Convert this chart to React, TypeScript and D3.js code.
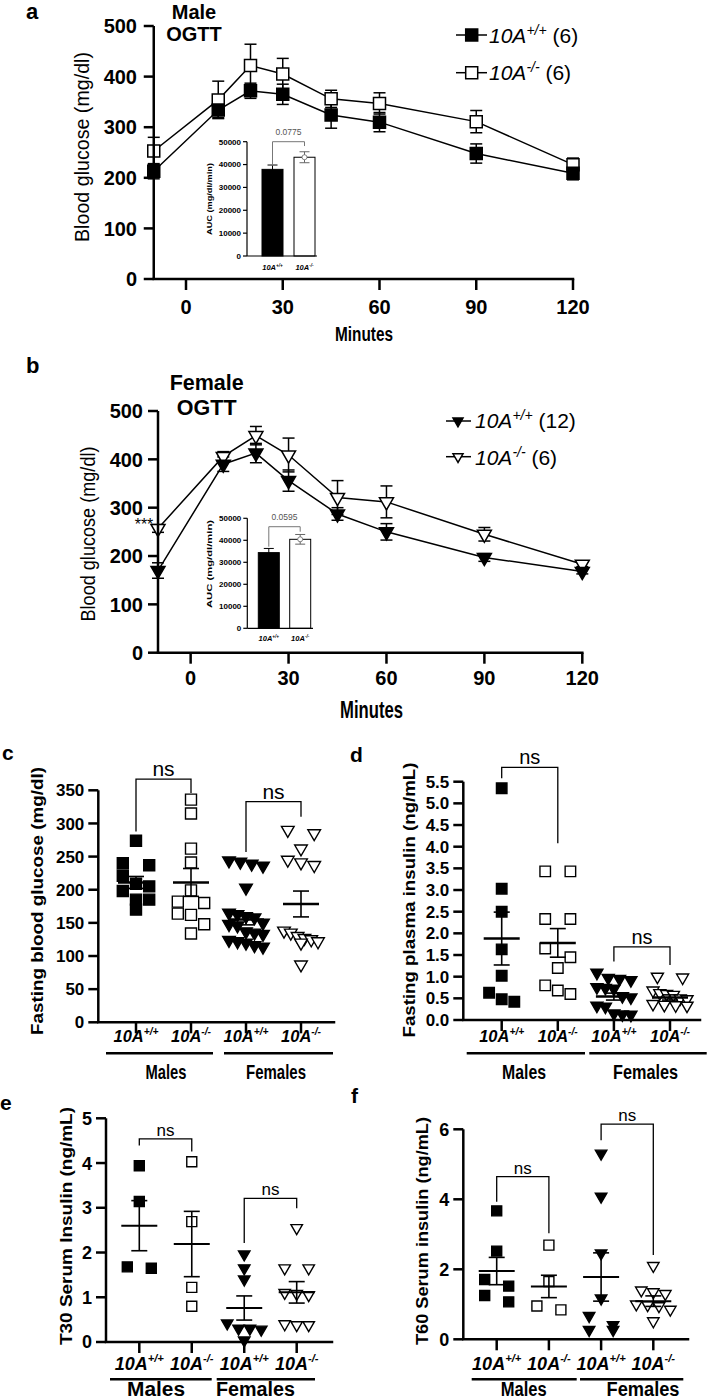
import React from 'react';
import * as d3 from 'd3';

// ---------- DATA ----------
const timePoints = [-10, 10, 20, 30, 45, 60, 90, 120];
const maleWT = [213, 334, 372, 365, 324, 310, 248, 209];
const maleWTSem = [15, 15, 15, 20, 26, 19, 19, 13];
const maleKO = [253, 354, 422, 405, 356, 347, 311, 226];
const maleKOSem = [27, 37, 42, 31, 17, 21, 22, 13];
const femaleWT = [170, 390, 413, 356, 287, 250, 197, 168];
const femaleWTSem = [16, 15, 20, 22, 13, 17, 8, 5];
const femaleKO = [257, 406, 449, 409, 321, 312, 245, 183];
const femaleKOSem = [8, 10, 19, 35, 35, 33, 14, 5];
const ogttYTicks = [0, 100, 200, 300, 400, 500];
const ogttXTicks = [0, 30, 60, 90, 120];

const genotypes = ['+/+', '-/-'];
const maleAUC = [37900, 43200];
const maleAUCSem = [1900, 2400];
const femaleAUC = [34400, 40450];
const femaleAUCSem = [1900, 2200];
const aucTicks = [0, 10000, 20000, 30000, 40000, 50000];
const aucPValues = ['0.0775', '0.0595'];

const categories = ['M+/+', 'M-/-', 'F+/+', 'F-/-'];
const categoryGenotypes = ['+/+', '-/-', '+/+', '-/-'];
const sexes = ['Males', 'Females'];

const glucoseMaleWT = [274, 240, 237, 221, 209, 205, 198, 185, 185, 170];
const glucoseMaleKO = [336, 315, 262, 241, 199, 182, 180, 164, 162, 148, 134];
const glucoseFemaleWT = [244, 242, 239, 236, 203, 165, 163, 160, 158, 150, 148, 146, 137, 135, 133, 124, 122, 120, 116, 114];
const glucoseFemaleKO = [290, 285, 262, 245, 241, 237, 138, 135, 130, 127, 125, 122, 120, 87];
const glucoseMeans = [211, 211, 155, 178.5];
const glucoseSems = [9, 21, 8, 19.5];

const insulinMaleWT = [5.35, 3.03, 2.5, 1.63, 1.02, 0.63, 0.48, 0.42];
const insulinMaleKO = [3.43, 3.43, 2.33, 2.33, 1.65, 1.45, 1.2, 0.8, 0.68, 0.6];
const insulinFemaleWT = [1.09, 0.97, 0.95, 0.92, 0.76, 0.74, 0.72, 0.55, 0.52, 0.33, 0.31, 0.15, 0.13, 0.12];
const insulinFemaleKO = [1.0, 0.98, 0.68, 0.62, 0.6, 0.58, 0.5, 0.48, 0.37, 0.35, 0.34, 0.33];
const insulinMeans = [1.88, 1.78, 0.54, 0.52];
const insulinSems = [0.61, 0.33, 0.08, 0.06];

const t30MaleWT = [3.94, 3.14, 1.68, 1.65];
const t30MaleKO = [4.03, 2.69, 1.22, 0.8];
const t30FemaleWT = [1.96, 1.65, 1.4, 0.42, 0.3, 0.28, 0.3, 0.04];
const t30FemaleKO = [2.55, 1.65, 1.65, 1.1, 1.08, 1.05, 0.38, 0.4, 0.38];
const t30Means = [2.6, 2.19, 0.76, 1.11];
const t30Sems = [0.56, 0.73, 0.27, 0.24];

const t60MaleWT = [3.67, 2.52, 1.71, 1.52, 1.25, 1.07];
const t60MaleKO = [2.69, 1.65, 0.95, 0.84];
const t60FemaleWT = [5.31, 4.08, 2.46, 1.17, 0.67, 0.41, 0.27, 0.27];
const t60FemaleKO = [2.1, 1.4, 1.35, 1.3, 1.0, 0.98, 0.95, 0.85, 0.52];
const t60Means = [1.95, 1.51, 1.78, 1.09];
const t60Sems = [0.39, 0.32, 0.69, 0.15];

const FONT = "'Liberation Sans', Arial, Helvetica, sans-serif";

function symbolPath(shape: string, size: number) {
  if (shape === 'square') return d3.symbol().type(d3.symbolSquare).size(size * size)() as string;
  return d3.symbol().type(d3.symbolTriangle).size((size * size * Math.sqrt(3)) / 4)() as string;
}

function Marker({ x, y, shape, size, filled, sw = 1.5 }: any) {
  const rot = shape === 'square' ? '' : ' rotate(180)';
  return (
    <path
      d={symbolPath(shape, size)}
      transform={`translate(${x},${y})${rot}`}
      fill={filled ? '#000' : '#fff'}
      stroke="#000"
      strokeWidth={sw}
    />
  );
}

function Geno({ x, y, g, size, bold = true, anchor = 'middle' }: any) {
  return (
    <text x={x} y={y} textAnchor={anchor} fontSize={size} fontWeight={bold ? 'bold' : 'normal'} fontStyle="italic">
      10A<tspan dy={-size * 0.42} fontSize={size * 0.62}>{g}</tspan>
    </text>
  );
}

// ---------- INSET ----------
function Inset({ c, values, sems, pValue }: any) {
  const y = d3.scaleLinear().domain([0, 50000]).range(c.yRange);
  const x = d3.scalePoint<string>().domain(genotypes).range(c.centers);
  const bw = 21;
  return (
    <g>
      {values.map((v: number, i: number) => {
        const cx = x(genotypes[i]) as number;
        return (
          <g key={i}>
            <line x1={cx} x2={cx} y1={y(v - sems[i])} y2={y(v + sems[i])} stroke={i ? '#666' : '#000'} strokeWidth={1} />
            <line x1={cx - 5} x2={cx + 5} y1={y(v + sems[i])} y2={y(v + sems[i])} stroke={i ? '#666' : '#000'} strokeWidth={1} />
            <line x1={cx - 5} x2={cx + 5} y1={y(v - sems[i])} y2={y(v - sems[i])} stroke={i ? '#666' : '#000'} strokeWidth={1} />
            <rect x={cx - bw / 2} y={y(v)} width={bw} height={y(0) - y(v)} fill={i ? 'none' : '#000'} stroke="#000" strokeWidth={1} />
            {i === 1 && <circle cx={cx} cy={y(v)} r={2.5} fill="#fff" stroke="#666" strokeWidth={0.8} />}
            <Geno x={cx} y={c.labelBaseline} g={genotypes[i]} size={7.5} />
          </g>
        );
      })}
      <line x1={c.axisX} x2={c.axisX} y1={y(50000)} y2={y(0)} stroke="#000" strokeWidth={1.2} />
      <line x1={c.axisX} x2={c.xEnd} y1={y(0)} y2={y(0)} stroke="#000" strokeWidth={1.2} />
      {aucTicks.map((t) => (
        <g key={t}>
          <line x1={c.axisX - 4} x2={c.axisX} y1={y(t)} y2={y(t)} stroke="#000" strokeWidth={1.2} />
          <text x={c.axisX - 6} y={y(t)} dy="0.36em" textAnchor="end" fontSize={8} fontWeight="bold">{t}</text>
        </g>
      ))}
      <text
        transform={`translate(${c.titleCenter[0]},${c.titleCenter[1]}) rotate(-90)`}
        textAnchor="middle"
        dominantBaseline="central"
        fontSize={8}
        fontWeight="bold"
        textLength={c.titleLen}
        lengthAdjust="spacingAndGlyphs"
      >AUC (mg/dl/min)</text>
      <path
        d={`M${x(genotypes[0])},${y(c.bracket[1])}V${y(c.bracket[0])}H${x(genotypes[1])}V${y(c.bracket[2])}`}
        fill="none"
        stroke="#777"
        strokeWidth={1}
      />
      <text x={((x(genotypes[0]) as number) + (x(genotypes[1]) as number)) / 2} y={c.pBaseline} textAnchor="middle" fontSize={8.5} fill="#555">{pValue}</text>
    </g>
  );
}

// ---------- OGTT PANEL ----------
function OgttPanel({ c, wt, wtSem, ko, koSem, shape, auc, aucSem, pValue }: any) {
  const x = d3.scaleLinear().domain([-10, 120]).range(c.xRange);
  const y = d3.scaleLinear().domain([0, 500]).range(c.yRange);
  const line = d3.line<number>().x((_, i) => x(timePoints[i])).y((d) => y(d));
  const x0 = x(-10);
  const series = [
    { v: ko, s: koSem, filled: false },
    { v: wt, s: wtSem, filled: true },
  ];
  return (
    <g>
      <text x={c.letter[0]} y={c.letter[1]} fontSize={22} fontWeight="bold">{c.letterText}</text>
      {c.headings.map((h: string, i: number) => (
        <text key={h} x={c.headingX} y={c.headingY[i]} textAnchor="middle" fontSize={c.headingFont} fontWeight="bold">{h}</text>
      ))}
      <text
        transform={`translate(${c.titleCenter[0]},${c.titleCenter[1]}) rotate(-90)`}
        textAnchor="middle"
        dominantBaseline="central"
        fontSize={19.5}
        textLength={c.titleLen}
        lengthAdjust="spacingAndGlyphs"
      >Blood glucose (mg/dl)</text>
      {series.map((s, k) => (
        <path key={k} d={line(s.v) as string} fill="none" stroke="#000" strokeWidth={1.5} />
      ))}
      {series.map((s, k) => (
        <g key={'e' + k}>
          {s.v.map((v: number, i: number) => {
            const px = x(timePoints[i]);
            const hi = y(v + s.s[i]);
            const lo = y(v - s.s[i]);
            return (
              <g key={i}>
                <line x1={px} x2={px} y1={hi} y2={lo} stroke="#000" strokeWidth={1.5} />
                <line x1={px - 6} x2={px + 6} y1={hi} y2={hi} stroke="#000" strokeWidth={1.5} />
                <line x1={px - 6} x2={px + 6} y1={lo} y2={lo} stroke="#000" strokeWidth={1.5} />
              </g>
            );
          })}
        </g>
      ))}
      {series.map((s, k) => (
        <g key={'m' + k}>
          {s.v.map((v: number, i: number) => (
            <Marker key={i} x={x(timePoints[i])} y={y(v)} shape={shape} size={c.markerSize} filled={s.filled} />
          ))}
        </g>
      ))}
      <line x1={x0} x2={x0} y1={y(500)} y2={y(0)} stroke="#000" strokeWidth={2.5} />
      <line x1={x0} x2={x(120)} y1={y(0)} y2={y(0)} stroke="#000" strokeWidth={2.5} strokeLinecap="square" />
      {ogttYTicks.map((t) => (
        <g key={t}>
          <line x1={x0 - 10} x2={x0} y1={y(t)} y2={y(t)} stroke="#000" strokeWidth={2.5} />
          <text x={c.yLabelRight} y={y(t)} dy="0.36em" textAnchor="end" fontSize={20} fontWeight="bold">{t}</text>
        </g>
      ))}
      {ogttXTicks.map((t) => (
        <g key={t}>
          <line x1={x(t)} x2={x(t)} y1={y(0)} y2={y(0) + 11} stroke="#000" strokeWidth={2.5} />
          <text x={x(t)} y={c.xLabelBaseline} textAnchor="middle" fontSize={20} fontWeight="bold">{t}</text>
        </g>
      ))}
      <text x={c.minutes[0]} y={c.minutes[1]} textAnchor="middle" fontSize={c.minutes[3]} fontWeight="bold" textLength={c.minutes[2]} lengthAdjust="spacingAndGlyphs">Minutes</text>
      {c.legendY.map((ly: number, i: number) => (
        <g key={i}>
          <line x1={c.legendLine[0]} x2={c.legendLine[1]} y1={ly} y2={ly} stroke="#000" strokeWidth={1.5} />
          <Marker x={c.legendMarkerX} y={ly} shape={shape} size={c.legendMarkerSize} filled={i === 0} />
          <text x={c.legendTextX} y={c.legendBaseline[i]} fontSize={21}>
            <tspan fontStyle="italic">10A</tspan>
            <tspan fontStyle="italic" dy={-8} fontSize={14}>{genotypes[i]}</tspan>
            <tspan dy={8}>{` (${c.legendN[i]})`}</tspan>
          </text>
        </g>
      ))}
      {c.stars && (
        <text x={x0 - 14} y={c.stars} textAnchor="middle" fontSize={16}>***</text>
      )}
      <Inset c={c.inset} values={auc} sems={aucSem} pValue={pValue} />
    </g>
  );
}

// ---------- SCATTER PANEL ----------
function jitter(values: number[], yScale: any, size: number, step: number, maxHalf: number) {
  const idx = values.map((_, i) => i).sort((a, b) => values[b] - values[a]);
  const offsets = new Array(values.length).fill(0);
  let row: number[] = [];
  let rowTop = 0;
  const flush = () => {
    const n = row.length;
    if (!n) return;
    let slots: number[];
    if (n === 1) slots = [0];
    else if (n === 2) slots = [-1, 1];
    else slots = row.map((_, k) => k - (n - 1) / 2);
    const maxSlot = Math.max(...slots.map(Math.abs));
    let st = step;
    if (maxSlot * st > maxHalf) st = maxHalf / maxSlot;
    row.forEach((id, k) => (offsets[id] = slots[k] * st));
    row = [];
  };
  for (const id of idx) {
    const py = yScale(values[id]);
    if (row.length && py - rowTop < size) row.push(id);
    else {
      flush();
      row = [id];
      rowTop = py;
    }
  }
  flush();
  return offsets;
}

function ScatterPanel({ c, groups, means, sems }: any) {
  const y = d3.scaleLinear().domain(c.yDomain).range(c.yRange);
  const x = d3.scalePoint<string>().domain(categories).range(c.xRange);
  const fmt = c.tickFormat || ((d: number) => String(d));
  const ms = c.markerSize;
  return (
    <g>
      <text x={c.letter[0]} y={c.letter[1]} fontSize={21} fontWeight="bold">{c.letterText}</text>
      <text
        transform={`translate(${c.titleCenter[0]},${c.titleCenter[1]}) rotate(-90)`}
        textAnchor="middle"
        dominantBaseline="central"
        fontSize={c.titleFont}
        fontWeight="bold"
        textLength={c.titleLen}
        lengthAdjust="spacingAndGlyphs"
      >{c.title}</text>
      {groups.map((vals: number[], gi: number) => {
        const cx = x(categories[gi]) as number;
        const offs = jitter(vals, y, ms, ms * 1.2, c.maxHalf);
        const shape = gi < 2 ? 'square' : 'tri';
        return (
          <g key={gi}>
            {vals.map((v, i) => (
              <Marker key={i} x={cx + offs[i]} y={y(v)} shape={shape} size={shape === 'square' ? ms : ms * 1.15} filled={gi % 2 === 0} sw={1.4} />
            ))}
          </g>
        );
      })}
      {means.map((m: number, gi: number) => {
        const cx = x(categories[gi]) as number;
        const hi = y(m + sems[gi]);
        const lo = y(m - sems[gi]);
        return (
          <g key={gi} stroke="#000" strokeWidth={c.meanWidth}>
            <line x1={cx - 18} x2={cx + 18} y1={y(m)} y2={y(m)} />
            <line x1={cx} x2={cx} y1={hi} y2={lo} strokeWidth={1.6} />
            <line x1={cx - 8} x2={cx + 8} y1={hi} y2={hi} strokeWidth={1.6} />
            <line x1={cx - 8} x2={cx + 8} y1={lo} y2={lo} strokeWidth={1.6} />
          </g>
        );
      })}
      {c.brackets.map((b: any, i: number) => {
        const xl = x(categories[b.from]) as number;
        const xr = x(categories[b.to]) as number;
        return (
          <g key={i}>
            <path d={`M${xl},${y(b.left)}V${y(b.top)}H${xr}V${y(b.right)}`} fill="none" stroke="#000" strokeWidth={1.3} />
            <text x={(xl + xr) / 2} y={y(b.top) - 3} textAnchor="middle" fontSize={c.nsFont}>ns</text>
          </g>
        );
      })}
      <line x1={c.axisX} x2={c.axisX} y1={y(c.yDomain[1])} y2={y(0)} stroke="#000" strokeWidth={2.5} />
      <line x1={c.axisX} x2={c.xEnd} y1={y(0)} y2={y(0)} stroke="#000" strokeWidth={2.5} strokeLinecap="square" />
      {c.yTicks.map((t: number) => (
        <g key={t}>
          <line x1={c.axisX - 10} x2={c.axisX} y1={y(t)} y2={y(t)} stroke="#000" strokeWidth={2.5} />
          <text x={c.axisX - 14} y={y(t)} dy="0.36em" textAnchor="end" fontSize={c.tickFont} fontWeight="bold">{fmt(t)}</text>
        </g>
      ))}
      {categories.map((cat, i) => {
        const cx = x(cat) as number;
        return (
          <g key={cat}>
            <line x1={cx} x2={cx} y1={y(0)} y2={y(0) + 11} stroke="#000" strokeWidth={2.5} />
            <Geno x={cx} y={c.catBaseline} g={categoryGenotypes[i]} size={c.catFont} />
          </g>
        );
      })}
      {sexes.map((s, i) => (
        <g key={s}>
          <line x1={c.groupLines[i][0]} x2={c.groupLines[i][1]} y1={c.groupLineY} y2={c.groupLineY} stroke="#000" strokeWidth={2.5} />
          <text x={c.groupLabelX[i]} y={c.groupBaseline} textAnchor="middle" fontSize={c.groupFont} fontWeight="bold" textLength={c.groupLabelLen[i]} lengthAdjust="spacingAndGlyphs">{s}</text>
        </g>
      ))}
    </g>
  );
}

// ---------- LAYOUT ----------
const panelA = {
  letterText: 'a', letter: [26, 19],
  xRange: [153.75, 573], yRange: [279, 26],
  yLabelRight: 137, xLabelBaseline: 314,
  titleCenter: [82, 147], titleLen: 190,
  minutes: [364, 341, 58, 20],
  headings: ['Male', 'OGTT'], headingX: 194, headingY: [18.5, 41], headingFont: 20,
  markerSize: 12,
  legendY: [35, 72.7], legendLine: [456, 487], legendMarkerX: 471.7, legendMarkerSize: 12,
  legendTextX: 489, legendBaseline: [43, 80], legendN: [6, 6],
  stars: null,
  inset: {
    yRange: [256, 141.7], centers: [272.5, 304.5], axisX: 247, xEnd: 317,
    labelBaseline: 270, titleCenter: [209, 199], titleLen: 72,
    pBaseline: 135, bracket: [50000, 39500, 48100],
  },
};

const panelB = {
  letterText: 'b', letter: [26, 373],
  xRange: [158, 582.3], yRange: [652.7, 411],
  yLabelRight: 143, xLabelBaseline: 685,
  titleCenter: [88, 534], titleLen: 175,
  minutes: [371.5, 718, 63, 24],
  headings: ['Female', 'OGTT'], headingX: 206.7, headingY: [390, 415], headingFont: 21.5,
  markerSize: 14,
  legendY: [421, 456.7], legendLine: [446, 471], legendMarkerX: 458, legendMarkerSize: 10,
  legendTextX: 475, legendBaseline: [428, 465], legendN: [12, 6],
  stars: 530,
  inset: {
    yRange: [628.3, 518.3], centers: [268.8, 300.2], axisX: 247.3, xEnd: 313,
    labelBaseline: 641, titleCenter: [209, 564], titleLen: 88,
    pBaseline: 520, bracket: [46180, 37090, 43910],
  },
};

const panelC = {
  letterText: 'c', letter: [2, 760],
  yDomain: [0, 350], yRange: [1022.3, 790.3], yTicks: d3.range(0, 351, 50),
  axisX: 98.3, xEnd: 334, xRange: [136, 301], maxHalf: 17,
  title: 'Fasting blood glucose (mg/dl)', titleCenter: [37, 901], titleLen: 268, titleFont: 17,
  tickFont: 17, markerSize: 11, meanWidth: 2.5, nsFont: 21,
  catBaseline: 1042, catFont: 16.5,
  groupLineY: 1053.3, groupLines: [[106, 213], [224, 333]],
  groupLabelX: [166, 276], groupLabelLen: [41, 60], groupBaseline: 1079, groupFont: 21,
  brackets: [
    { from: 0, to: 1, top: 367, left: 288, right: 346 },
    { from: 2, to: 3, top: 333, left: 257, right: 310 },
  ],
};

const panelD = {
  letterText: 'd', letter: [350, 762],
  yDomain: [0, 5.5], yRange: [1020, 781.7], yTicks: d3.range(0, 5.51, 0.5),
  tickFormat: d3.format('.1f'),
  axisX: 463.3, xEnd: 700, xRange: [501.7, 670], maxHalf: 17,
  title: 'Fasting plasma insulin (ng/mL)', titleCenter: [409, 900], titleLen: 275, titleFont: 17,
  tickFont: 17, markerSize: 10.5, meanWidth: 2.5, nsFont: 20,
  catBaseline: 1042, catFont: 16.5,
  groupLineY: 1053.3, groupLines: [[466.7, 585], [589.3, 706.7]],
  groupLabelX: [524, 645.5], groupLabelLen: [44, 65], groupBaseline: 1079, groupFont: 21,
  brackets: [
    { from: 0, to: 1, top: 5.83, left: 5.58, right: 4.08 },
    { from: 2, to: 3, top: 1.69, left: 1.35, right: 1.27 },
  ],
};

const panelE = {
  letterText: 'e', letter: [0, 1110],
  yDomain: [0, 5], yRange: [1342, 1118.3], yTicks: d3.range(0, 6, 1),
  axisX: 106, xEnd: 332, xRange: [139.3, 296.7], maxHalf: 17,
  title: 'T30 Serum Insulin (ng/mL)', titleCenter: [66, 1226], titleLen: 238, titleFont: 17,
  tickFont: 18, markerSize: 10, meanWidth: 2, nsFont: 17,
  catBaseline: 1370, catFont: 18,
  groupLineY: 1379.3, groupLines: [[110, 211.7], [216.7, 315]],
  groupLabelX: [156, 255.5], groupLabelLen: [58, 79], groupBaseline: 1396, groupFont: 20,
  brackets: [
    { from: 0, to: 1, top: 4.54, left: 4.39, right: 4.26 },
    { from: 2, to: 3, top: 3.21, left: 2.21, right: 2.99 },
  ],
};

const panelF = {
  letterText: 'f', letter: [351, 1103],
  yDomain: [0, 6], yRange: [1339.3, 1129.3], yTicks: [0, 2, 4, 6],
  axisX: 463.3, xEnd: 688, xRange: [496.7, 653.3], maxHalf: 17,
  title: 'T60 Serum insulin (ng/mL)', titleCenter: [422, 1231], titleLen: 228, titleFont: 17,
  tickFont: 18, markerSize: 10, meanWidth: 2, nsFont: 17,
  catBaseline: 1370, catFont: 18,
  groupLineY: 1379.3, groupLines: [[471.7, 576.7], [580, 683.3]],
  groupLabelX: [523.7, 643], groupLabelLen: [46, 73], groupBaseline: 1396, groupFont: 20,
  brackets: [
    { from: 0, to: 1, top: 4.65, left: 3.93, right: 3.03 },
    { from: 2, to: 3, top: 6.15, left: 5.69, right: 2.41 },
  ],
};

export default function App() {
  return (
    <svg
      width={710}
      height={1399}
      viewBox="0 0 710 1399"
      style={{ position: 'absolute', left: 0, top: 0, display: 'block', background: '#fff' }}
      fontFamily={FONT}
    >
      <rect x={0} y={0} width={710} height={1399} fill="#fff" />
      <OgttPanel c={panelA} wt={maleWT} wtSem={maleWTSem} ko={maleKO} koSem={maleKOSem} shape="square" auc={maleAUC} aucSem={maleAUCSem} pValue={aucPValues[0]} />
      <OgttPanel c={panelB} wt={femaleWT} wtSem={femaleWTSem} ko={femaleKO} koSem={femaleKOSem} shape="tri" auc={femaleAUC} aucSem={femaleAUCSem} pValue={aucPValues[1]} />
      <ScatterPanel c={panelC} groups={[glucoseMaleWT, glucoseMaleKO, glucoseFemaleWT, glucoseFemaleKO]} means={glucoseMeans} sems={glucoseSems} />
      <ScatterPanel c={panelD} groups={[insulinMaleWT, insulinMaleKO, insulinFemaleWT, insulinFemaleKO]} means={insulinMeans} sems={insulinSems} />
      <ScatterPanel c={panelE} groups={[t30MaleWT, t30MaleKO, t30FemaleWT, t30FemaleKO]} means={t30Means} sems={t30Sems} />
      <ScatterPanel c={panelF} groups={[t60MaleWT, t60MaleKO, t60FemaleWT, t60FemaleKO]} means={t60Means} sems={t60Sems} />
    </svg>
  );
}
